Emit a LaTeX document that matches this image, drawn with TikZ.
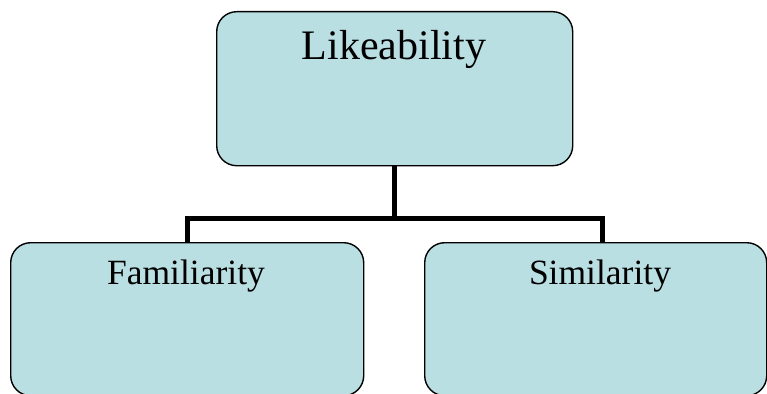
\documentclass[tikz,border=0pt]{standalone}
\usepackage{fontspec}
\setmainfont{Liberation Serif}
\definecolor{boxfill}{HTML}{B9DFE3}
\begin{document}
\begin{tikzpicture}[x=1pt,y=-1pt,
  box/.style={draw=black,line width=1.4pt,fill=boxfill,rounded corners=20pt,inner sep=0pt,anchor=north west},
  conn/.style={line width=5pt},
  lbl/.style={anchor=base,inner sep=0pt,text=black}]
\useasboundingbox (0,0) rectangle (767,393);
\node[box,minimum width=356pt,minimum height=154pt] (top) at (216,11) {};
\node[box,minimum width=353pt,minimum height=153pt] (left) at (10,242) {};
\node[box,minimum width=342pt,minimum height=153pt] (right) at (424,242) {};
\node[lbl,font=\fontsize{42}{48}\selectfont] (t1) at (394,60) {Likeability};
\node[lbl,font=\fontsize{35.5}{40}\selectfont] (t2) at (186,284) {Familiarity};
\node[lbl,font=\fontsize{35.5}{40}\selectfont] (t3) at (600,284) {Similarity};
\coordinate (junc) at (top.south |- 0,218);
\coordinate (rtop) at (602,242);
\draw[conn] (top.south) -- (junc);
\draw[conn] (junc) -| (left.north);
\draw[conn] (junc) -| (rtop);
\end{tikzpicture}
\end{document}
